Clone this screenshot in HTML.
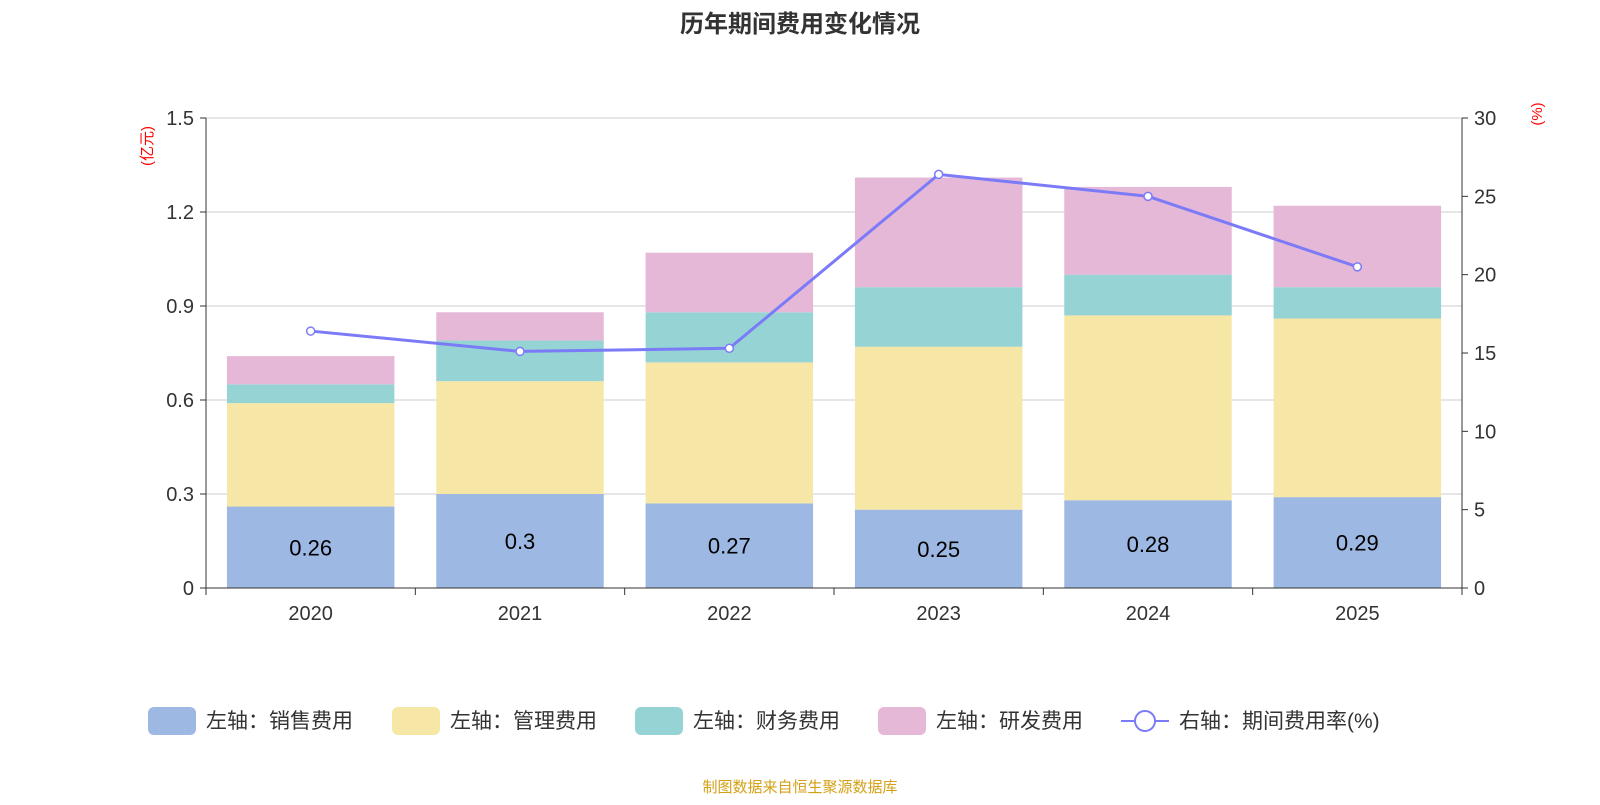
<!DOCTYPE html>
<html><head><meta charset="utf-8"><style>
body{margin:0;background:#fff;font-family:"Liberation Sans","Noto Sans CJK SC",sans-serif}
svg text{font-family:"Liberation Sans","Noto Sans CJK SC",sans-serif}
</style></head><body>
<svg id="c" width="1600" height="800" xmlns="http://www.w3.org/2000/svg">
<text x="800" y="32" text-anchor="middle" font-size="24" font-weight="bold" fill="#333">历年期间费用变化情况</text>
<text transform="translate(152,146) rotate(-90)" text-anchor="middle" font-size="15" fill="red">(亿元)</text>
<text transform="translate(1542,114) rotate(-90)" text-anchor="middle" font-size="15" fill="red">(%)</text>
<g id="grid"></g><g id="bars"></g><g id="line"></g><g id="axes"></g>
<g id="legend"></g>
<text x="800" y="792" text-anchor="middle" font-size="15" fill="#d4a017">制图数据来自恒生聚源数据库</text>
</svg>
<script>
const categories=["2020","2021","2022","2023","2024","2025"];
const sales=[0.26,0.3,0.27,0.25,0.28,0.29];
const mgmt=[0.33,0.36,0.45,0.52,0.59,0.57];
const fin=[0.06,0.13,0.16,0.19,0.13,0.10];
const rd=[0.09,0.09,0.19,0.35,0.28,0.26];
const rate=[16.4,15.1,15.3,26.4,25.0,20.5];
const leftTicks=["0","0.3","0.6","0.9","1.2","1.5"];
const rightTicks=["0","5","10","15","20","25","30"];
const seriesNames=["左轴：销售费用","左轴：管理费用","左轴：财务费用","左轴：研发费用"];
const NS="http://www.w3.org/2000/svg";
const X0=206,X1=1462,Y0=588,Y1=118;
const bw=(X1-X0)/categories.length;
const yL=v=>Y0-(v/1.5)*(Y0-Y1);
const yR=v=>Y0-(v/30)*(Y0-Y1);
const xC=i=>X0+bw*(i+0.5);
function mk(t,a,p){const e=document.createElementNS(NS,t);for(const k in a)e.setAttribute(k,a[k]);p.appendChild(e);return e;}
const grid=document.getElementById('grid'),axes=document.getElementById('axes');
leftTicks.forEach((t,i)=>{const v=+t,y=yL(v);
 if(i>0){const g=mk('line',{x1:X0,x2:X1,y1:y,y2:y,stroke:'#ccc','stroke-width':1},grid);
 }
 mk('line',{x1:X0-6,x2:X0,y1:y,y2:y,stroke:'#333'},axes);
 const tx=mk('text',{x:X0-12,y:y+7,'text-anchor':'end','font-size':20,fill:'#333'},axes);tx.textContent=t;
 });
rightTicks.forEach(t=>{const y=yR(+t);
 mk('line',{x1:X1,x2:X1+6,y1:y,y2:y,stroke:'#333'},axes);
 const tx=mk('text',{x:X1+12,y:y+7,'font-size':20,fill:'#333'},axes);tx.textContent=t;
 });
mk('line',{x1:X0,x2:X0,y1:Y1,y2:Y0,stroke:'#333'},axes);
mk('line',{x1:X1,x2:X1,y1:Y1,y2:Y0,stroke:'#333'},axes);
mk('line',{x1:X0,x2:X1,y1:Y0,y2:Y0,stroke:'#333'},axes);
for(let i=0;i<=categories.length;i++){const x=X0+bw*i;mk('line',{x1:x,x2:x,y1:Y0,y2:Y0+7,stroke:'#333'},axes);}
categories.forEach((c,i)=>{const t=mk('text',{x:xC(i),y:620,'text-anchor':'middle','font-size':20,fill:'#333'},axes);t.textContent=c;
 });
const colors=['#9db8e2','#f7e7a6','#96d3d4','#e6b8d8'];
const series=[sales,mgmt,fin,rd];const names=['sales','mgmt','finance','rnd'];
const bars=document.getElementById('bars');
categories.forEach((c,i)=>{let acc=0;const w=bw*0.8;
 series.forEach((s,k)=>{const y1=yL(acc+s[i]),y0=yL(acc);
  const r=mk('rect',{x:xC(i)-w/2,y:y1,width:w,height:y0-y1,fill:colors[k]},bars);
  acc+=s[i];});
 const t=mk('text',{x:xC(i),y:(yL(sales[i])+Y0)/2+8,'text-anchor':'middle','font-size':22,fill:'#000'},bars);t.textContent=String(sales[i]);
 });
const lg=document.getElementById('line');
const pl=mk('polyline',{points:rate.map((v,i)=>xC(i)+','+yR(v)).join(' '),fill:'none',stroke:'#7b7bf7','stroke-width':3},lg);

rate.forEach((v,i)=>{const p=mk('circle',{cx:xC(i),cy:yR(v),r:4,fill:'#fff',stroke:'#7b7bf7','stroke-width':1.5},lg);
 });
const leg=document.getElementById('legend');
const lx=[148,392,635,878];
seriesNames.forEach((n,k)=>{const g=mk('g',{},leg);
 mk('rect',{x:lx[k],y:707,width:48,height:28,rx:6,fill:colors[k]},g);
 const t=mk('text',{x:lx[k]+58,y:728,'font-size':21,fill:'#333'},g);t.textContent=n;});
const g=mk('g',{},leg);
mk('line',{x1:1121,x2:1169,y1:721,y2:721,stroke:'#7b7bf7','stroke-width':2},g);
mk('circle',{cx:1145,cy:721,r:10,fill:'#fff',stroke:'#7b7bf7','stroke-width':2},g);
const t=mk('text',{x:1179,y:728,'font-size':21,fill:'#333'},g);t.textContent='右轴：期间费用率(%)';
</script>
</body></html>
